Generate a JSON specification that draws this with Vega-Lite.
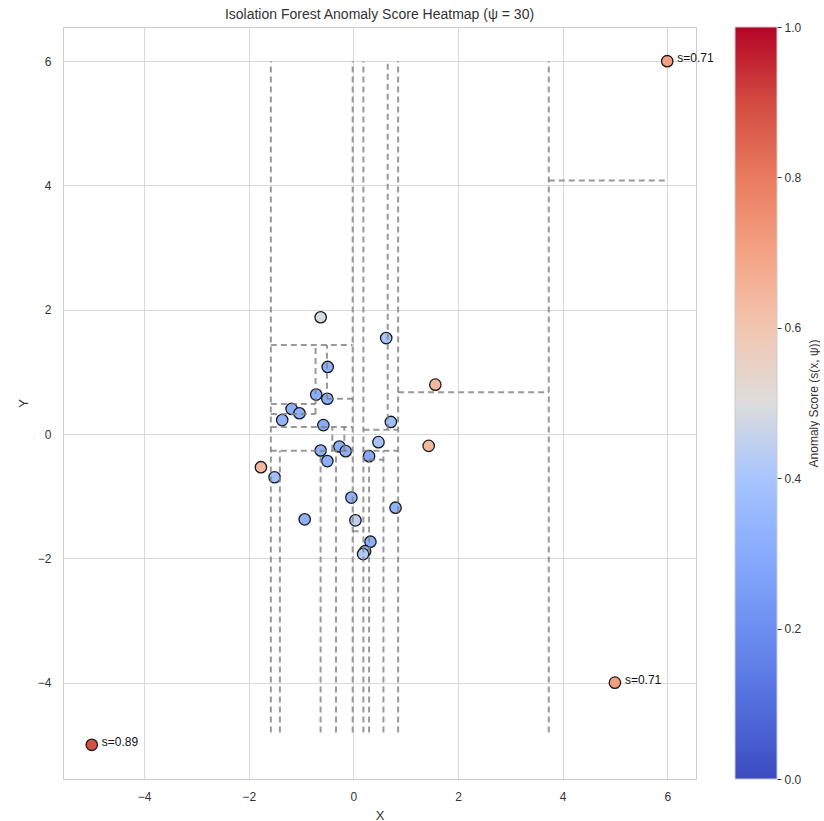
{
  "$schema": "https://vega.github.io/schema/vega-lite/v6.json",
  "width": 633,
  "height": 752,
  "padding": {"left": 17, "top": 8, "right": 0, "bottom": 5},
  "background": "white",
  "config": {
    "font": "Liberation Sans",
    "view": {"stroke": "#cccccc", "strokeWidth": 1},
    "axis": {
      "grid": true,
      "gridColor": "#d9d9d9",
      "gridWidth": 1,
      "domain": false,
      "ticks": false,
      "labelFontSize": 12,
      "labelColor": "#333333",
      "labelPadding": 12,
      "titleFontSize": 13,
      "titleFontWeight": "normal",
      "titleColor": "#333333",
      "titlePadding": 7
    },
    "title": {"fontSize": 14, "fontWeight": "normal", "color": "#333333"}
  },
  "title": {"text": "Isolation Forest Anomaly Score Heatmap (ψ = 30)", "offset": -1},
  "datasets": {
    "points": [
      {"x": -0.625, "y": 1.88, "score": 0.49},
      {"x": 0.628, "y": 1.545, "score": 0.4},
      {"x": 1.567, "y": 0.795, "score": 0.64},
      {"x": -0.49, "y": 1.08, "score": 0.32},
      {"x": -0.71, "y": 0.635, "score": 0.31},
      {"x": -0.497, "y": 0.568, "score": 0.31},
      {"x": -1.18, "y": 0.405, "score": 0.31},
      {"x": -1.03, "y": 0.335, "score": 0.32},
      {"x": -1.36, "y": 0.225, "score": 0.33},
      {"x": -0.573, "y": 0.144, "score": 0.3},
      {"x": 0.717, "y": 0.195, "score": 0.37},
      {"x": 0.48, "y": -0.13, "score": 0.39},
      {"x": 1.44, "y": -0.19, "score": 0.64},
      {"x": -0.625, "y": -0.265, "score": 0.32},
      {"x": -0.267, "y": -0.2, "score": 0.31},
      {"x": -0.146, "y": -0.275, "score": 0.31},
      {"x": 0.3, "y": -0.355, "score": 0.29},
      {"x": -0.497, "y": -0.435, "score": 0.31},
      {"x": -1.767, "y": -0.533, "score": 0.64},
      {"x": -1.506, "y": -0.695, "score": 0.38},
      {"x": -0.037, "y": -1.022, "score": 0.33},
      {"x": 0.806, "y": -1.185, "score": 0.33},
      {"x": -0.93, "y": -1.372, "score": 0.32},
      {"x": 0.04, "y": -1.388, "score": 0.44},
      {"x": 0.327, "y": -1.732, "score": 0.31},
      {"x": 0.225, "y": -1.885, "score": 0.32},
      {"x": 0.187, "y": -1.931, "score": 0.42},
      {"x": 6, "y": 6, "score": 0.71, "label": "s=0.71"},
      {"x": 5, "y": -4, "score": 0.71, "label": "s=0.71"},
      {"x": -5, "y": -5, "score": 0.89, "label": "s=0.89"}
    ],
    "segments": [
      {"x1": -1.577, "y1": -4.8, "x2": -1.577, "y2": 6},
      {"x1": -0.013, "y1": -4.8, "x2": -0.013, "y2": 6},
      {"x1": 0.192, "y1": -4.8, "x2": 0.192, "y2": 6},
      {"x1": 0.856, "y1": -4.8, "x2": 0.856, "y2": 6},
      {"x1": 3.736, "y1": -4.8, "x2": 3.736, "y2": 6},
      {"x1": 0.657, "y1": 0.069, "x2": 0.657, "y2": 6},
      {"x1": -1.404, "y1": -4.8, "x2": -1.404, "y2": -0.268},
      {"x1": -0.626, "y1": -4.8, "x2": -0.626, "y2": -0.268},
      {"x1": -0.331, "y1": -4.8, "x2": -0.331, "y2": -0.268},
      {"x1": -0.402, "y1": -0.268, "x2": -0.402, "y2": 0.112},
      {"x1": -0.172, "y1": -0.268, "x2": -0.172, "y2": 0.112},
      {"x1": -0.722, "y1": 0.321, "x2": -0.722, "y2": 1.433},
      {"x1": -0.504, "y1": 0.567, "x2": -0.504, "y2": 1.433},
      {"x1": -0.504, "y1": 0.567, "x2": -0.013, "y2": 0.567},
      {"x1": -1.577, "y1": 0.482, "x2": -0.722, "y2": 0.482},
      {"x1": -1.577, "y1": 0.321, "x2": -0.722, "y2": 0.321},
      {"x1": -1.577, "y1": 1.433, "x2": -0.013, "y2": 1.433},
      {"x1": -1.577, "y1": 0.112, "x2": -0.013, "y2": 0.112},
      {"x1": -1.577, "y1": -0.268, "x2": -0.013, "y2": -0.268},
      {"x1": 0.192, "y1": 0.069, "x2": 0.856, "y2": 0.069},
      {"x1": 0.192, "y1": -0.268, "x2": 0.856, "y2": -0.268},
      {"x1": 0.301, "y1": -4.8, "x2": 0.301, "y2": -0.413},
      {"x1": 0.301, "y1": -0.413, "x2": 0.575, "y2": -0.413},
      {"x1": 0.575, "y1": -4.8, "x2": 0.575, "y2": -0.268},
      {"x1": -0.013, "y1": -1.562, "x2": 0.192, "y2": -1.562},
      {"x1": 0.856, "y1": 0.674, "x2": 3.736, "y2": 0.674},
      {"x1": 3.736, "y1": 4.082, "x2": 5.98, "y2": 4.082}
    ]
  },
  "layer": [
    {
      "layer": [
        {
          "data": {"name": "points"},
          "mark": {"type": "circle", "size": 130, "stroke": "#1a1a1a", "strokeWidth": 1.3, "opacity": 1},
          "encoding": {
            "x": {"field": "x", "type": "quantitative", "title": "X",
                  "scale": {"domain": [-5.55, 6.55], "nice": false, "zero": false},
                  "axis": {"values": [-4, -2, 0, 2, 4, 6], "format": "d"}},
            "y": {"field": "y", "type": "quantitative", "title": "Y",
                  "scale": {"domain": [-5.55, 6.55], "nice": false, "zero": false},
                  "axis": {"values": [-4, -2, 0, 2, 4, 6], "format": "d"}},
            "fill": {"field": "score", "type": "quantitative",
                     "scale": {
                       "domain": [0, 0.1, 0.2, 0.3, 0.4, 0.5, 0.6, 0.7, 0.8, 0.9, 1],
                       "range": ["#3b4cc0", "#536edd", "#6c8ff1", "#88abfd", "#a7c5fe", "#dddddd", "#f2c6b0", "#f4a384", "#e97b5f", "#d24b40", "#b40426"],
                       "interpolate": "rgb"
                     },
                     "legend": {
                       "orient": "none",
                       "legendX": 672,
                       "legendY": 0,
                       "direction": "vertical",
                       "gradientLength": 752,
                       "gradientThickness": 42,
                       "gradientStrokeColor": "#cccccc",
                       "gradientStrokeWidth": 1,
                       "labelExpr": "''",
                       "labelOpacity": 0,
                       "labelFontSize": 1,
                       "title": null
                     }}
          }
        },
        {
          "data": {"name": "segments"},
          "mark": {"type": "rule", "color": "#808080", "opacity": 0.8, "strokeWidth": 2, "strokeDash": [6, 4]},
          "encoding": {
            "x": {"field": "x1", "type": "quantitative"},
            "y": {"field": "y1", "type": "quantitative"},
            "x2": {"field": "x2"},
            "y2": {"field": "y2"}
          }
        },
        {
          "data": {"name": "points"},
          "transform": [{"filter": "datum.label != null"}],
          "mark": {"type": "text", "align": "left", "baseline": "middle", "dx": 10, "dy": -3, "fontSize": 12, "color": "#111111"},
          "encoding": {
            "x": {"field": "x", "type": "quantitative"},
            "y": {"field": "y", "type": "quantitative"},
            "text": {"field": "label"}
          }
        }
      ]
    },
    {
      "data": {"name": "points"},
      "mark": {"type": "point", "opacity": 0},
      "encoding": {
        "x": {"field": "x", "type": "quantitative"},
        "y": {"field": "score", "type": "quantitative",
              "scale": {"domain": [0, 1], "nice": false, "zero": false},
              "axis": {
                "orient": "right",
                "offset": 81,
                "values": [0, 0.2, 0.4, 0.6, 0.8, 1],
                "format": ".1f",
                "grid": false,
                "domain": false,
                "ticks": true,
                "tickSize": 4,
                "tickColor": "#333333",
                "labelPadding": 3,
                "labelFontSize": 12,
                "title": "Anomaly Score (s(x, ψ))",
                "titleAngle": 270,
                "titleFontSize": 12,
                "titlePadding": 20
              }}
      }
    }
  ],
  "resolve": {"scale": {"y": "independent"}, "axis": {"y": "independent"}}
}
